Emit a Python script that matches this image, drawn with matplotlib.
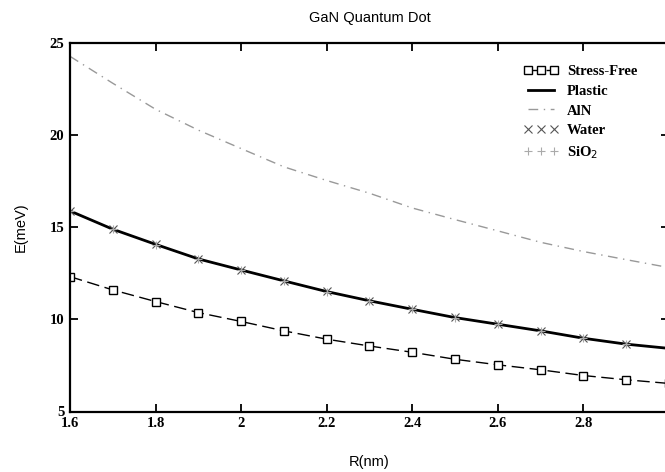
import matplotlib
matplotlib.use("Agg")
import matplotlib.pyplot as plt

# radius (nm) and energies (meV)
R = [1.6, 1.7, 1.8, 1.9, 2.0, 2.1, 2.2, 2.3, 2.4, 2.5, 2.6, 2.7, 2.8, 2.9, 3.0]
stress_free = [12.31, 11.59, 10.96, 10.36, 9.88, 9.37, 8.92, 8.55, 8.21, 7.83, 7.53, 7.26, 6.95, 6.72, 6.52]
plastic = [15.87, 14.88, 14.06, 13.27, 12.67, 12.08, 11.50, 11.00, 10.54, 10.09, 9.73, 9.37, 8.97, 8.65, 8.42]
aln = [24.25, 22.79, 21.38, 20.25, 19.25, 18.26, 17.52, 16.83, 16.03, 15.40, 14.79, 14.17, 13.67, 13.23, 12.80]
water = [15.87, 14.89, 14.07, 13.28, 12.68, 12.09, 11.51, 11.01, 10.55, 10.10, 9.74, 9.38, 8.98, 8.66, 8.43]
sio2 = [15.86, 14.87, 14.05, 13.26, 12.66, 12.07, 11.49, 10.99, 10.53, 10.08, 9.72, 9.36, 8.96, 8.64, 8.41]

xticks = [1.6, 1.8, 2, 2.2, 2.4, 2.6, 2.8]
xticklabels = ["1.6", "1.8", "2", "2.2", "2.4", "2.6", "2.8"]
yticks = [5, 10, 15, 20, 25]

fig = plt.figure(figsize=(6.65, 4.72), dpi=100)
ax = fig.add_axes([70 / 665, 60.5 / 472, 599 / 665, 369 / 472])

ax.plot(R, stress_free, color="black", lw=1.0, ls=(0, (9, 4)), marker="s",
        ms=6, mfc="white", mec="black", mew=1.0, label="Stress-Free")
ax.plot(R, plastic, color="black", lw=2.0, label="Plastic")
ax.plot(R, aln, color="#999999", lw=1.0, ls=(0, (7, 4, 1, 4)), label="AlN")
ax.plot(R, water, color="#555555", lw=0.8, ls="none", marker="x", ms=6,
        mew=0.8, label="Water")
ax.plot(R, sio2, color="#aaaaaa", lw=0.6, ls="none", marker="+", ms=6,
        mew=0.8, label="SiO$_2$")

ax.set_xlim(1.6, 3.0)
ax.set_ylim(5, 25)
ax.set_xticks(xticks)
ax.set_xticklabels(xticklabels)
ax.set_yticks(yticks)

tick_font = {"family": "Liberation Serif", "weight": "bold", "size": 10.5}
for lab in ax.get_xticklabels() + ax.get_yticklabels():
    lab.set_fontfamily(tick_font["family"])
    lab.set_fontweight(tick_font["weight"])
    lab.set_fontsize(tick_font["size"])

ax.tick_params(direction="in", length=6, width=1.3, top=True, right=True, pad=4)
for sp in ax.spines.values():
    sp.set_linewidth(1.6)

ax.set_title("GaN Quantum Dot", fontfamily="Liberation Sans", fontsize=10.5, pad=15)
ax.set_xlabel("R(nm)", fontfamily="Liberation Sans", fontsize=10.5, labelpad=18)
ax.set_ylabel("E(meV)", fontfamily="Liberation Sans", fontsize=10.5, labelpad=16)

leg = ax.legend(loc="upper left", bbox_to_anchor=(0.735, 0.975), frameon=False,
                prop={"family": "Liberation Serif", "weight": "bold", "size": 10.5},
                handlelength=2.4, labelspacing=0.45, handletextpad=0.6, numpoints=3,
                markerscale=0.85)

fig.savefig("out.png", dpi=100)
